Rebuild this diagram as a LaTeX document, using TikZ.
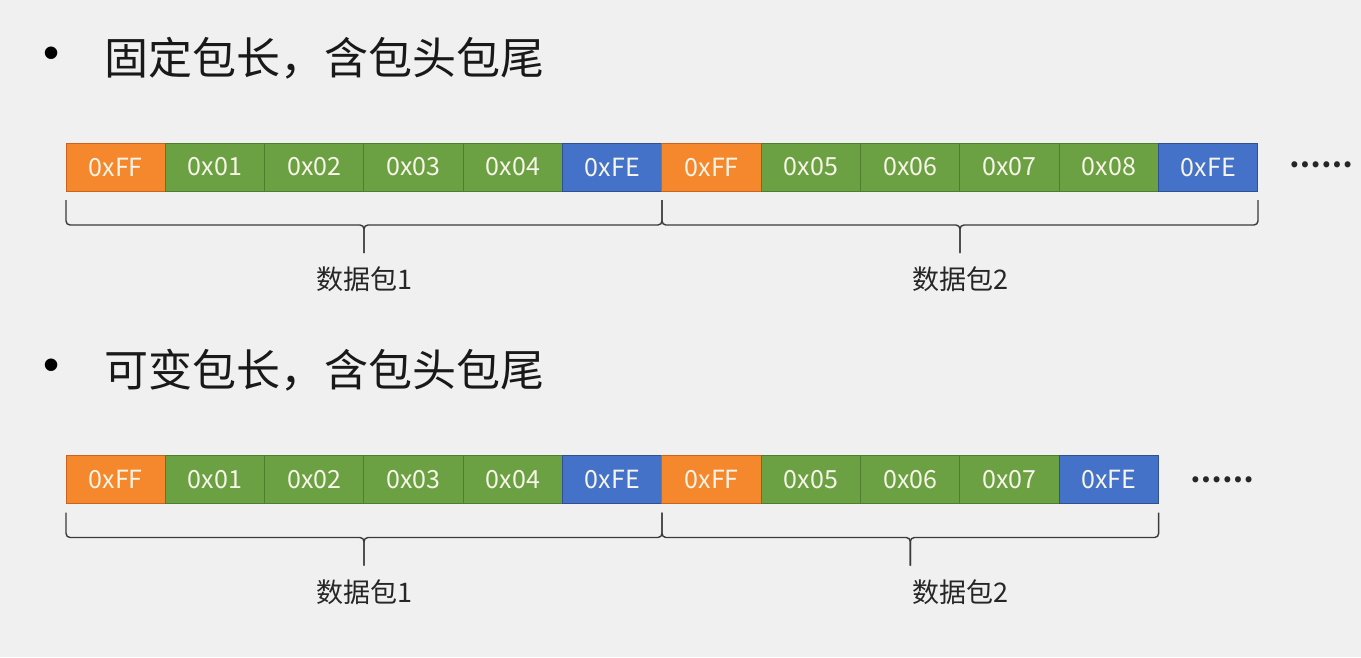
\documentclass[tikz,border=0pt]{standalone}
\usepackage{fontspec}
\setmainfont{Noto Sans CJK SC}
\newfontfamily\bulletfont{Liberation Sans}
\usetikzlibrary{calc}
\definecolor{bg}{HTML}{F0F0F0}
\definecolor{ora}{HTML}{F5872D}
\definecolor{oraD}{HTML}{C8641E}
\definecolor{grn}{HTML}{6BA043}
\definecolor{grnD}{HTML}{4E7D2E}
\definecolor{blu}{HTML}{4472C8}
\definecolor{bluD}{HTML}{2F528F}
\definecolor{txtw}{HTML}{F7F5E8}
\definecolor{brc}{HTML}{3A3A3A}
\tikzset{
 cell/.style={minimum width=99.33pt, minimum height=48pt, inner sep=0pt, outer sep=0pt, line width=1pt, text=txtw, font=\fontsize{25}{28}\selectfont, anchor=west},
 headcell/.style={cell, fill=ora, draw=oraD},
 datcell/.style={cell, fill=grn, draw=grnD},
 tailcell/.style={cell, fill=blu, draw=bluD},
 bracestyle/.style={draw=brc, line width=1.4pt, rounded corners=4pt},
 lab/.style={font=\fontsize{27}{30}\selectfont, text=black!85, inner sep=0pt},
 title/.style={font=\fontsize{44}{50}\selectfont, anchor=west, inner sep=0pt, text=black!90},
 bul/.style={font=\bulletfont\fontsize{46}{50}\selectfont, inner sep=0pt},
 dotsnode/.style={font=\bfseries\fontsize{28}{30}\selectfont, inner sep=0pt, text=black!85}
}
\newcommand\bracedown[2]{%
 \draw[bracestyle] (#1) -- ++(0,25) -| ($(#1)!0.5!(#2)+(0,53)$);
 \draw[bracestyle] (#2) -- ++(0,25) -| ($(#1)!0.5!(#2)+(0,53)$);
}
\begin{document}
\begin{tikzpicture}[x=1pt,y=-1pt]
\useasboundingbox (0,0) rectangle (1361,657);
\fill[bg] (0,0) rectangle (1361,657);

% headings
\node[bul] (bu1) at (52,58) {•};
\node[title] (t1) at (104,58) {固定包长，含包头包尾};
\node[bul] (bu2) at (52,370) {•};
\node[title] (t2) at (104,370) {可变包长，含包头包尾};

% row 1
\node[headcell] (a1) at (66,167) {0xFF};
\node[datcell] (a2) at (a1.east) {0x01};
\node[datcell] (a3) at (a2.east) {0x02};
\node[datcell] (a4) at (a3.east) {0x03};
\node[datcell] (a5) at (a4.east) {0x04};
\node[tailcell] (a6) at (a5.east) {0xFE};
\node[headcell] (a7) at (a6.east) {0xFF};
\node[datcell] (a8) at (a7.east) {0x05};
\node[datcell] (a9) at (a8.east) {0x06};
\node[datcell] (a10) at (a9.east) {0x07};
\node[datcell] (a11) at (a10.east) {0x08};
\node[tailcell] (a12) at (a11.east) {0xFE};
\node[dotsnode] (d1) at (1321,165) {……};

\coordinate (ba1) at ($(a1.south west)+(0,9)$);
\coordinate (ba2) at ($(a6.south east)+(0,9)$);
\coordinate (ba3) at ($(a7.south west)+(0,9)$);
\coordinate (ba4) at ($(a12.south east)+(0,9)$);
\bracedown{ba1}{ba2}
\bracedown{ba3}{ba4}
\node[lab] (l1) at (364,279) {数据包1};
\node[lab] (l2) at (960,279) {数据包2};

% row 2
\node[headcell] (b1) at (66,479.5) {0xFF};
\node[datcell] (b2) at (b1.east) {0x01};
\node[datcell] (b3) at (b2.east) {0x02};
\node[datcell] (b4) at (b3.east) {0x03};
\node[datcell] (b5) at (b4.east) {0x04};
\node[tailcell] (b6) at (b5.east) {0xFE};
\node[headcell] (b7) at (b6.east) {0xFF};
\node[datcell] (b8) at (b7.east) {0x05};
\node[datcell] (b9) at (b8.east) {0x06};
\node[datcell] (b10) at (b9.east) {0x07};
\node[tailcell] (b11) at (b10.east) {0xFE};
\node[dotsnode] (d2) at (1222,480) {……};

\coordinate (bb1) at ($(b1.south west)+(0,9)$);
\coordinate (bb2) at ($(b6.south east)+(0,9)$);
\coordinate (bb3) at ($(b7.south west)+(0,9)$);
\coordinate (bb4) at ($(b11.south east)+(0,9)$);
\bracedown{bb1}{bb2}
\bracedown{bb3}{bb4}
\node[lab] (l3) at (364,592) {数据包1};
\node[lab] (l4) at (960,592) {数据包2};
\end{tikzpicture}
\end{document}
